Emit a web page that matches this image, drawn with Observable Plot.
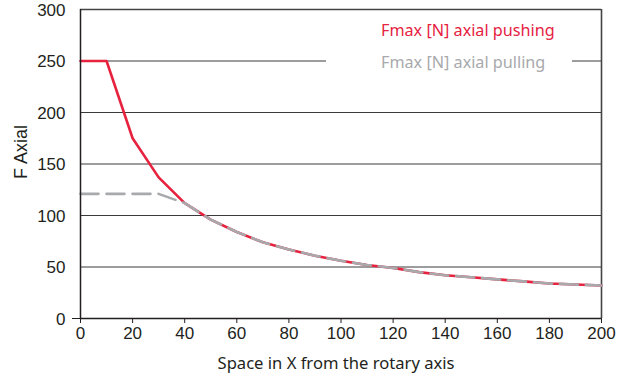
<!DOCTYPE html>
<html>
<head>
<meta charset="utf-8">
<script src="https://cdn.jsdelivr.net/npm/d3@7"></script>
<script src="https://cdn.jsdelivr.net/npm/@observablehq/plot@0.6"></script>
<style>
  html, body { margin: 0; padding: 0; background: #fff; }
  #wrap { position: relative; width: 622px; height: 379px; }
  #legend { position: absolute; left: 326px; top: 14px; width: 246px; height: 62px; background: #fff;
    font-family: "Noto Sans", "Open Sans", sans-serif; font-size: 16.2px; line-height: 32px; }
  #legend div { padding-left: 55px; white-space: nowrap; }
</style>
</head>
<body>
<div id="wrap">
  <div id="chart"></div>
  <div id="legend"></div>
</div>
<script>
const xValues = [0, 10, 20, 30, 40, 50, 60, 70, 80, 90, 100, 110, 120, 130, 140, 150, 160, 170, 180, 190, 200];
const pushingValues = [250, 250, 175, 137, 112, 96, 84, 74, 67, 61, 56, 52, 49, 45, 42, 40, 38, 36, 34, 33, 32];
const pullingValues = [121, 121, 121, 121, 112, 96, 84, 74, 67, 61, 56, 52, 49, 45, 42, 40, 38, 36, 34, 33, 32];
const seriesNames = ["Fmax [N] axial pushing", "Fmax [N] axial pulling"];
const seriesColors = ["#e6223f", "#a8a9ac"];
const xTicks = [0, 20, 40, 60, 80, 100, 120, 140, 160, 180, 200];
const yTicks = [0, 50, 100, 150, 200, 250, 300];
const gridTicks = [50, 100, 150, 200, 250];
const xTitle = "Space in X from the rotary axis";
const yTitle = "F Axial";

const pushing = xValues.map((x, i) => ({x, y: pushingValues[i]}));
const pulling = xValues.map((x, i) => ({x, y: pullingValues[i]}));

const tickFont = '"Liberation Sans", Arial, sans-serif';

const chart = Plot.plot({
  width: 622,
  height: 379,
  marginLeft: 80,
  marginRight: 21,
  marginTop: 9,
  marginBottom: 61,
  style: { fontFamily: tickFont, fontSize: "17px", color: "#231f20", background: "#fff", overflow: "visible" },
  x: { domain: [0, 200] },
  y: { domain: [0, 300] },
  marks: [
    Plot.ruleY(gridTicks, { stroke: "#3a3a3a", strokeWidth: 1 }),
    Plot.ruleY([300], { stroke: "#444", strokeWidth: 1.6 }),
    Plot.ruleX([200], { stroke: "#444", strokeWidth: 1.6 }),
    Plot.lineY(pushing, { x: "x", y: "y", stroke: seriesColors[0], strokeWidth: 2.6 }),
    Plot.lineY(pulling, { x: "x", y: "y", stroke: seriesColors[1], strokeWidth: 2.6, strokeDasharray: "18,8" }),
    Plot.axisX({ ticks: xTicks, tickSize: 5, tickPadding: 3, tickFormat: d => String(d), label: null, stroke: "#231f20", fill: "#231f20" }),
    Plot.axisY({ ticks: yTicks, tickSize: 0, tickPadding: 15, dy: 1, tickFormat: d => String(d), label: null, fill: "#231f20" }),
    Plot.axisY({ ticks: [0], tickSize: 8, tickFormat: () => "", label: null, stroke: "#231f20" }),
    Plot.ruleX([0], { stroke: "#231f20", strokeWidth: 1.5 }),
    Plot.ruleY([0], { stroke: "#231f20", strokeWidth: 1.5 }),
    Plot.text([xTitle], { frameAnchor: "bottom", dy: 50, dx: -5, text: d => d, fontFamily: '"Noto Sans", "Open Sans", sans-serif', fontSize: 16.6, fill: "#231f20", lineAnchor: "bottom" }),
    Plot.text([yTitle], { frameAnchor: "left", dx: -59, dy: -12, textAnchor: "middle", text: d => d, rotate: -90, fontFamily: tickFont, fontSize: 18, fill: "#231f20" })
  ]
});
document.getElementById("chart").appendChild(chart);

const legend = document.getElementById("legend");
seriesNames.forEach((name, i) => {
  const d = document.createElement("div");
  d.textContent = name;
  d.style.color = seriesColors[i];
  legend.appendChild(d);
});
</script>
</body>
</html>
